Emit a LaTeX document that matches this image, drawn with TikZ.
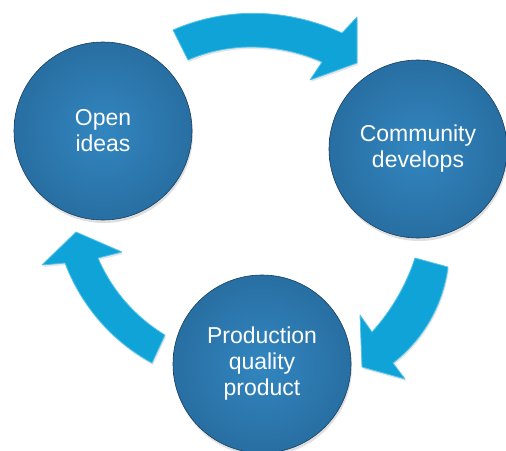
\documentclass[tikz,border=0pt]{standalone}
\usepackage{fontspec}
\setmainfont{Liberation Sans}
\usetikzlibrary{shadows}
\definecolor{circin}{RGB}{50,134,192}
\definecolor{circmid}{RGB}{38,106,156}
\definecolor{circout}{RGB}{30,80,122}
\definecolor{circrim}{RGB}{24,62,96}
\definecolor{arrowfill}{RGB}{16,163,216}
\definecolor{arrowedge}{RGB}{84,196,234}
\pgfdeclareradialshading{ballshade}{\pgfpoint{0bp}{0bp}}{color(0bp)=(circin); color(30bp)=(circmid); color(46bp)=(circout); color(50bp)=(circrim)}
\begin{document}
\begin{tikzpicture}[x=1pt,y=-1pt,
  ball/.style={circle, minimum size=178pt, inner sep=0pt, shading=ballshade,
    draw=circrim, line width=0.6pt, text=white,
    font=\fontsize{23}{26}\selectfont, align=center,
    drop shadow={opacity=0.25, shadow xshift=1pt, shadow yshift=-3pt}},
  blockarrow/.style={fill=arrowfill, draw=arrowedge, line width=0.8pt, line join=round,
    drop shadow={opacity=0.2, shadow xshift=1pt, shadow yshift=-2pt}}]
\useasboundingbox (0,0) rectangle (506,450);
\clip (0,0) rectangle (506,450);

% circles
\node[ball] (open) at (103,131) {Open\\ideas};
\node[ball] (comm) at (418,149) {Community\\develops};
\node[ball] (prod) at (262,364) {Production\\quality\\product};

% top arrow: open -> comm
\path[blockarrow] (173,30) .. controls (227,6.3) and (288.4,8.3) .. (342,33) -- (357,17) -- (357,63)
  -- (310,80) -- (322,62) .. controls (279.3,43.4) and (230.7,41.4) .. (188,60) -- cycle;

% right arrow: comm -> prod
\path[blockarrow] (448,267) .. controls (443.1,305) and (423.3,339.6) .. (393,363) -- (405,379) -- (362,367)
  -- (360,315) -- (372,332) .. controls (391.4,310.6) and (406,285.4) .. (415,258) -- cycle;

% left arrow: prod -> open
\path[blockarrow] (152,363) .. controls (111.9,341.2) and (81.1,305.7) .. (65,263) -- (42,265) -- (76,232)
  -- (122,252) -- (98,258) .. controls (111.7,290) and (135.2,317) .. (165,335) -- cycle;
\end{tikzpicture}
\end{document}
